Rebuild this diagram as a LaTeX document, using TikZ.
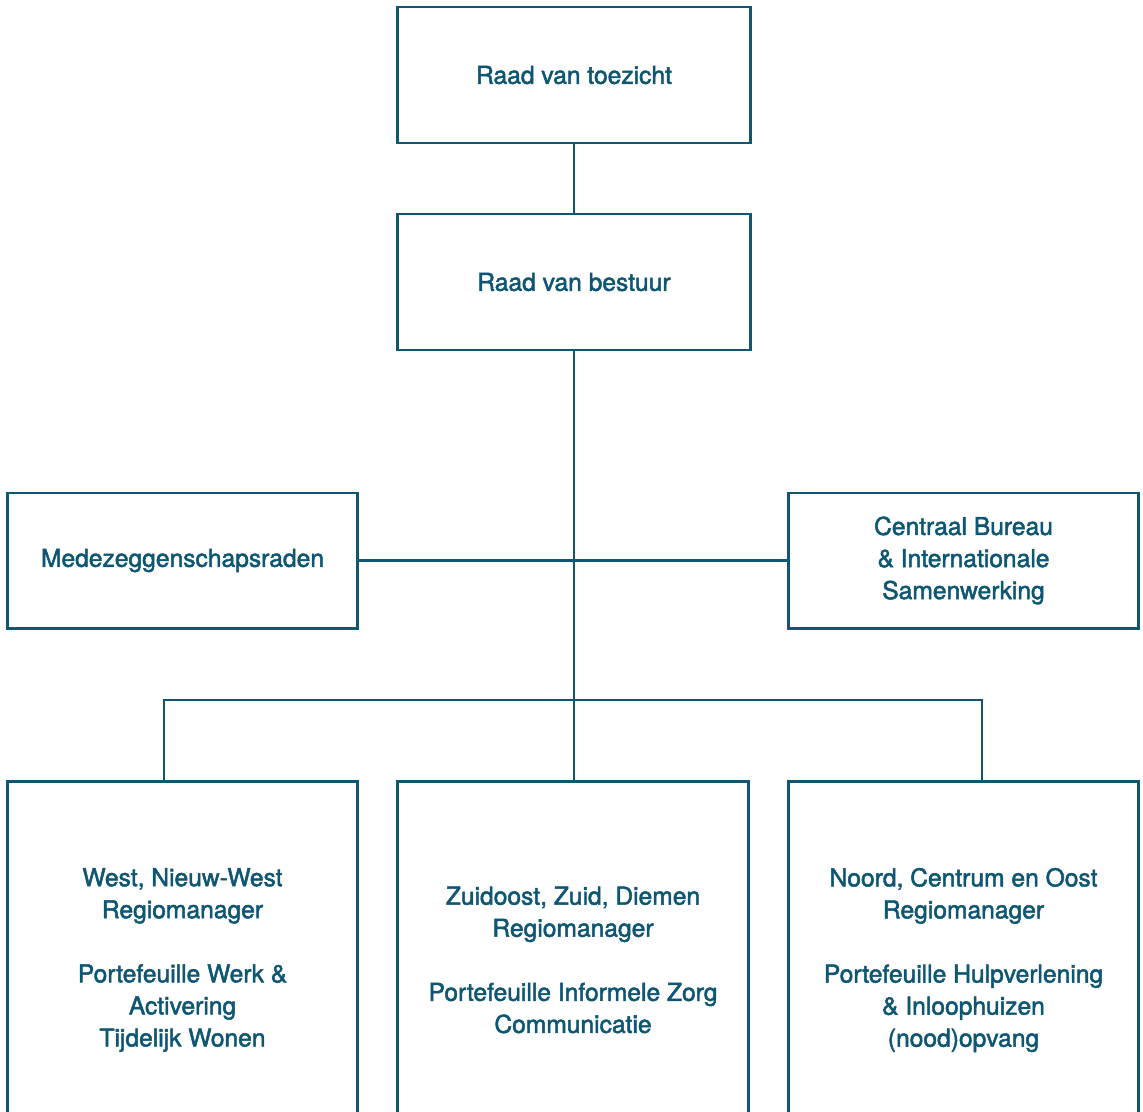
\documentclass[tikz,border=0pt]{standalone}
\usepackage{fontspec}
\usepackage{xcolor}
\usepackage{tikz}
\newfontfamily\orgfont[FakeBold=2]{TeX Gyre Heros}
\definecolor{orgblue}{RGB}{14,86,114}

\begin{document}
\begin{tikzpicture}[x=0.025cm,y=-0.025cm,
  unit/.style={draw=orgblue,line width=2.1pt,text=orgblue,align=center,inner sep=0pt,
    minimum width=8.8cm,minimum height=3.4cm,font=\orgfont\fontsize{17.5}{22.8}\selectfont},
  side/.style={unit,minimum width=8.725cm,minimum height=3.375cm},
  region/.style={unit,minimum width=8.75cm,minimum height=8.9cm},
  link/.style={draw=orgblue,line width=2.1pt}]
  \useasboundingbox (0,0) rectangle (1143,1111);
  \clip (0,0) rectangle (1143,1111);
  % board
  \node[unit] (toezicht) at (574,75) {Raad van toezicht};
  \node[unit] (bestuur) at (574,282) {Raad van bestuur};
  % staff
  \node[side] (mzr) at (182.5,560.5) {Medezeggenschapsraden};
  \node[side] (cb) at (963.5,560.5) {Centraal Bureau\\\& Internationale\\Samenwerking};
  % regions
  \node[region] (west) at (182.5,960) {West, Nieuw-West\\Regiomanager\\[\baselineskip]Portefeuille Werk \&\\Activering\\Tijdelijk Wonen};
  \node[region] (zuidoost) at (573,960) {Zuidoost, Zuid, Diemen\\Regiomanager\\[\baselineskip]Portefeuille Informele Zorg\\Communicatie};
  \node[region] (noord) at (963.5,960) {Noord, Centrum en Oost\\Regiomanager\\[\baselineskip]Portefeuille Hulpverlening\\\& Inloophuizen\\(nood)opvang};
  % lines
  \coordinate (barW) at (164,700);
  \coordinate (barN) at (982,700);
  \draw[link] (toezicht) -- (bestuur);
  \draw[link] (bestuur) -- (bestuur |- zuidoost.north);
  \draw[link] (mzr) -- (cb);
  \draw[link] (barW |- west.north) -- (barW) -- (barN) -- (barN |- noord.north);
\end{tikzpicture}
\end{document}
